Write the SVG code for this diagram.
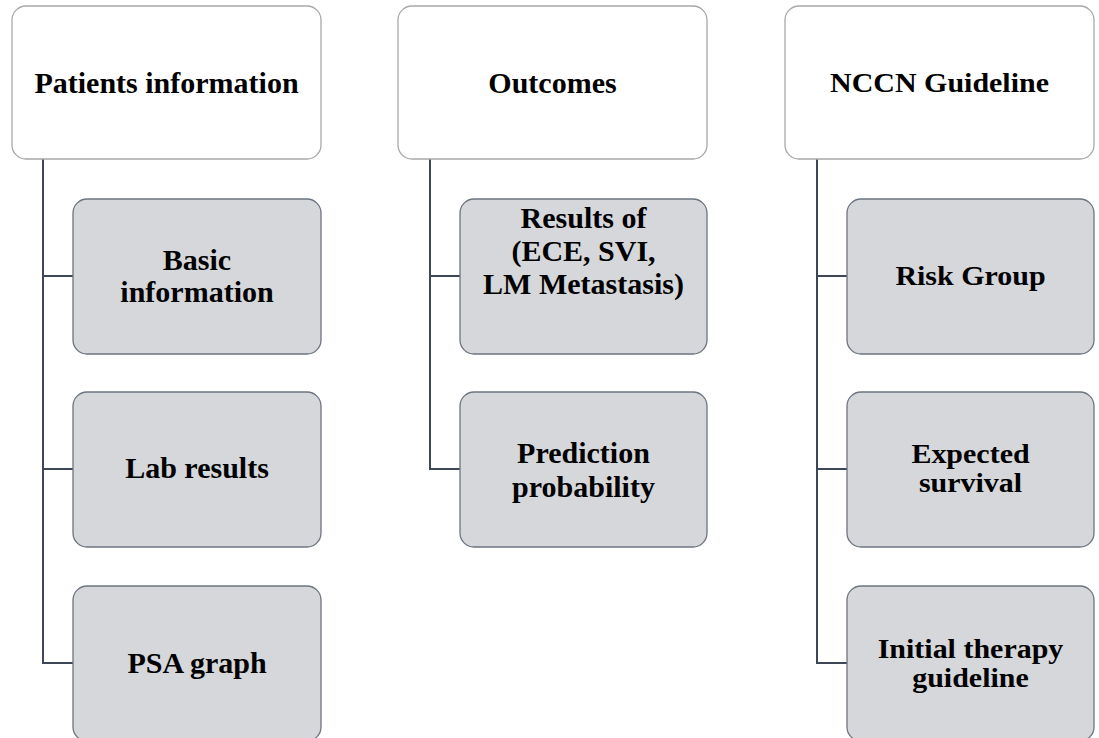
<svg xmlns="http://www.w3.org/2000/svg" width="1099" height="738" viewBox="0 0 1099 738">
<style>
.hdr{fill:#ffffff;stroke:#a6a8ab;stroke-width:1.3}
.chd{fill:#d5d7da;stroke:#6d7580;stroke-width:1.3}
.con{fill:none;stroke:#3d4758;stroke-width:2}
text{font-family:"Liberation Serif","Times New Roman",serif;font-weight:bold;font-size:30px;fill:#000;text-anchor:middle}
</style>
<rect width="1099" height="738" fill="#ffffff"/>
<g id="connectors">
<path class="con" d="M43 159 V663 H73 M43 276 H73 M43 469 H73"/>
<path class="con" d="M430 159 V469 H460 M430 276 H460"/>
<path class="con" d="M817 159 V663 H847 M817 276 H847 M817 469 H847"/>
</g>
<g id="patients"><rect class="hdr" x="12" y="6" width="309" height="153" rx="14"/><text x="166.5" y="93">Patients information</text></g>
<g id="basic"><rect class="chd" x="73" y="199" width="248" height="155" rx="14"/><text x="197" y="270">Basic</text><text x="197" y="302">information</text></g>
<g id="lab"><rect class="chd" x="73" y="392" width="248" height="155" rx="14"/><text x="197" y="478">Lab results</text></g>
<g id="psa"><rect class="chd" x="73" y="586" width="248" height="155" rx="14"/><text x="197" y="673">PSA graph</text></g>
<g id="outcomes"><rect class="hdr" x="398" y="6" width="309" height="153" rx="14"/><text x="552.5" y="93">Outcomes</text></g>
<g id="results"><rect class="chd" x="460" y="199" width="247" height="155" rx="14"/><text x="583.5" y="228">Results of</text><text x="583.5" y="261">(ECE, SVI,</text><text x="583.5" y="294">LM Metastasis)</text></g>
<g id="prediction"><rect class="chd" x="460" y="392" width="247" height="155" rx="14"/><text x="583.5" y="463">Prediction</text><text x="583.5" y="497">probability</text></g>
<g id="nccn"><rect class="hdr" x="785" y="6" width="309" height="153" rx="14"/><text transform="translate(939.5 92) scale(1 0.9)">NCCN Guideline</text></g>
<g id="risk"><rect class="chd" x="847" y="199" width="247" height="155" rx="14"/><text transform="translate(970.5 285) scale(1 0.9)">Risk Group</text></g>
<g id="survival"><rect class="chd" x="847" y="392" width="247" height="155" rx="14"/><text transform="translate(970.5 463) scale(1 0.9)">Expected</text><text transform="translate(970.5 492) scale(1 0.9)">survival</text></g>
<g id="therapy"><rect class="chd" x="847" y="586" width="247" height="155" rx="14"/><text transform="translate(970.5 658) scale(1 0.9)">Initial therapy</text><text transform="translate(970.5 687) scale(1 0.9)">guideline</text></g>
</svg>
